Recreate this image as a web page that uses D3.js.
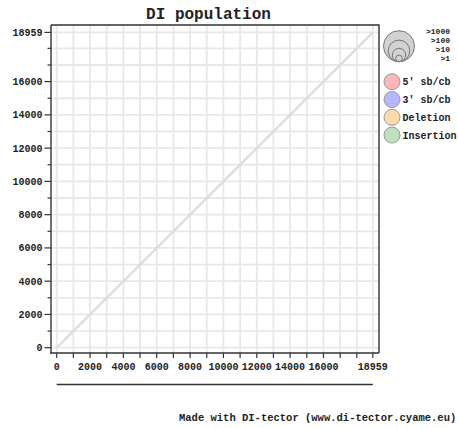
<!DOCTYPE html>
<html>
<head>
<meta charset="utf-8">
<script src="https://cdn.jsdelivr.net/npm/d3@7"></script>
<style>
  html, body { margin: 0; padding: 0; background: #fff; }
  svg { display: block; }
  text { font-family: "Liberation Mono", "DejaVu Sans Mono", monospace; font-weight: bold; fill: #222; }
</style>
</head>
<body>
<svg id="chart" width="458" height="428"></svg>
<script>
// Genome length of the reference sequence
const genomeLength = 18959;

// Tick positions (every 1000 plus the genome end) and which of them carry labels
const tickValues = [0, 1000, 2000, 3000, 4000, 5000, 6000, 7000, 8000, 9000,
  10000, 11000, 12000, 13000, 14000, 15000, 16000, 17000, 18000, 18959];
const tickLabels = [0, 2000, 4000, 6000, 8000, 10000, 12000, 14000, 16000, 18959];

// Diagonal reference (position equals position)
const diagonal = [[0, 0], [genomeLength, genomeLength]];

// DI junction points (none in this population)
const diPoints = [];

// Legend content
const sizeLabels = [">1000", ">100", ">10", ">1"];
const sizeRadii = [15.5, 10.8, 6.7, 3.3];
const typeLabels = ["5' sb/cb", "3' sb/cb", "Deletion", "Insertion"];
const typeColors = ["#ffb6b9", "#b7b7ff", "#fedcaa", "#bde0bd"];

const svg = d3.select("#chart");

const frame = { left: 51, right: 379, top: 25, bottom: 353 };
const x = d3.scaleLinear().domain([0, genomeLength]).range([56.7, 372.8]);
const y = d3.scaleLinear().domain([0, genomeLength]).range([347.7, 32.4]);

// Grid
const grid = svg.append("g").attr("class", "grid");
grid.selectAll("line.v").data(tickValues).join("line")
  .attr("class", "v")
  .attr("x1", d => x(d)).attr("x2", d => x(d))
  .attr("y1", frame.top).attr("y2", frame.bottom)
  .attr("stroke", "#e8e8e8").attr("stroke-width", 1.8);
grid.selectAll("line.h").data(tickValues).join("line")
  .attr("class", "h")
  .attr("y1", d => y(d)).attr("y2", d => y(d))
  .attr("x1", frame.left).attr("x2", frame.right)
  .attr("stroke", "#e8e8e8").attr("stroke-width", 1.8);

// Diagonal
svg.append("path")
  .datum(diagonal)
  .attr("d", d3.line().x(d => x(d[0])).y(d => y(d[1])))
  .attr("stroke", "#dcdcdc").attr("stroke-width", 2.2).attr("fill", "none");

// Junction points
svg.append("g").selectAll("circle").data(diPoints).join("circle")
  .attr("cx", d => x(d.x)).attr("cy", d => y(d.y)).attr("r", 4)
  .attr("fill", "#ccc");

// Frame (top and right)
svg.append("path")
  .attr("d", `M${frame.left},${frame.top}H${frame.right}V${frame.bottom}`)
  .attr("fill", "none").attr("stroke", "#333").attr("stroke-width", 1.4);

const isLabelled = d => tickLabels.includes(d);

// Y axis
const yAxis = svg.append("g").attr("transform", `translate(${frame.left},0)`);
yAxis.append("line").attr("x1", 0).attr("x2", 0)
  .attr("y1", frame.top).attr("y2", frame.bottom + 0.7)
  .attr("stroke", "#333").attr("stroke-width", 1.4);
yAxis.selectAll("line.tick").data(tickValues).join("line")
  .attr("class", "tick")
  .attr("x1", d => isLabelled(d) ? -6.5 : -3.5).attr("x2", 0)
  .attr("y1", d => y(d)).attr("y2", d => y(d))
  .attr("stroke", "#333").attr("stroke-width", 1.2);
yAxis.selectAll("text").data(tickLabels).join("text")
  .attr("x", -8.5).attr("y", d => y(d)).attr("dy", "0.34em")
  .attr("text-anchor", "end").attr("font-size", 10)
  .text(d => d);

// X axis
const xAxis = svg.append("g").attr("transform", `translate(0,${frame.bottom})`);
xAxis.append("line").attr("x1", frame.left - 0.7).attr("x2", frame.right)
  .attr("y1", 0).attr("y2", 0)
  .attr("stroke", "#333").attr("stroke-width", 1.4);
xAxis.selectAll("line.tick").data(tickValues).join("line")
  .attr("class", "tick")
  .attr("x1", d => x(d)).attr("x2", d => x(d))
  .attr("y1", 0).attr("y2", 5)
  .attr("stroke", "#333").attr("stroke-width", 1.2);
xAxis.selectAll("text").data(tickLabels).join("text")
  .attr("x", d => x(d)).attr("y", 17)
  .attr("text-anchor", "middle").attr("font-size", 10)
  .text(d => d);

// Axis underline
svg.append("line")
  .attr("x1", x(0)).attr("x2", x(genomeLength))
  .attr("y1", 384.5).attr("y2", 384.5)
  .attr("stroke", "#333").attr("stroke-width", 1.4);

// Title
svg.append("text")
  .attr("x", 208.5).attr("y", 19)
  .attr("text-anchor", "middle").attr("font-size", 16)
  .text("DI population");

// Size legend: nested circles sharing a common bottom
const sizeG = svg.append("g").attr("transform", "translate(399,61.7)");
sizeG.selectAll("circle").data(sizeRadii).join("circle")
  .attr("cx", 0).attr("cy", r => -r).attr("r", r => r)
  .attr("fill", "#d2d2d2").attr("stroke", "#777").attr("stroke-width", 1);
svg.append("g").selectAll("text").data(sizeLabels).join("text")
  .attr("x", 450).attr("y", (d, i) => 34 + i * 9)
  .attr("text-anchor", "end").attr("font-size", 8)
  .text(d => d);

// Type legend
const typeG = svg.append("g").selectAll("g").data(typeLabels).join("g")
  .attr("transform", (d, i) => `translate(392,${81.7 + i * 17.8})`);
typeG.append("circle")
  .attr("r", 8)
  .attr("fill", (d, i) => typeColors[i])
  .attr("stroke", "#999").attr("stroke-width", 1);
typeG.append("text")
  .attr("x", 10.5).attr("dy", "0.34em").attr("font-size", 10)
  .text(d => d);

// Footer
svg.append("text")
  .attr("x", 179).attr("y", 421).attr("font-size", 10.5)
  .text("Made with DI-tector (www.di-tector.cyame.eu)");
</script>
</body>
</html>
